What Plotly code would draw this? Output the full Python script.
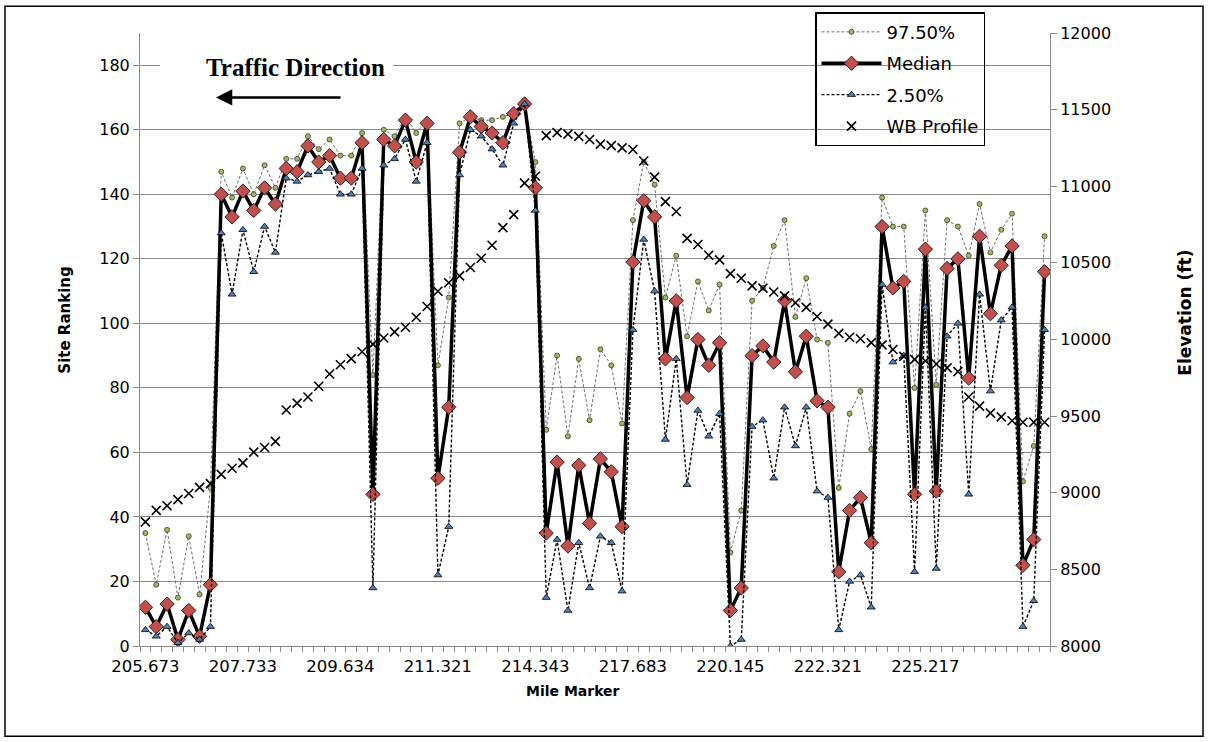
import plotly.graph_objects as go

# Site index along the route (westbound), 84 sites
site_index = list(range(84))

# Mile-marker labels shown every 9th site
label_positions = [0, 9, 18, 27, 36, 45, 54, 63, 72]
mile_labels = ["205.673", "207.733", "209.634", "211.321", "214.343",
               "217.683", "220.145", "222.321", "225.217"]

rank_upper = [35, 19, 36, 15, 34, 16, 49, 147, 139, 148, 140, 149, 142, 151, 151, 158,
              154, 157, 152, 152, 159, 84, 160, 158, 164, 159, 163, 87, 108, 162, 164, 163,
              163, 164, 165, 168, 150, 67, 90, 65, 89, 70, 92, 87, 69, 132, 150, 143,
              108, 121, 96, 113, 104, 112, 29, 42, 107, 111, 124, 132, 102, 114, 95, 94,
              49, 72, 79, 61, 139, 130, 130, 80, 135, 81, 132, 130, 121, 137, 122, 129,
              134, 51, 62, 127]

rank_median = [12, 6, 13, 2, 11, 3, 19, 140, 133, 141, 135, 142, 137, 148, 147, 155,
               150, 152, 145, 145, 156, 47, 157, 155, 163, 150, 162, 52, 74, 153, 164, 161,
               159, 156, 165, 168, 142, 35, 57, 31, 56, 38, 58, 54, 37, 119, 138, 133,
               89, 107, 77, 95, 87, 94, 11, 18, 90, 93, 88, 107, 85, 96, 76, 74,
               23, 42, 46, 32, 130, 111, 113, 47, 123, 48, 117, 120, 83, 127, 103, 118,
               124, 25, 33, 116]

rank_lower = [5, 3, 6, 1, 4, 2, 6, 128, 109, 129, 116, 130, 122, 145, 144, 146,
              147, 148, 140, 140, 148, 18, 149, 151, 157, 144, 156, 22, 37, 146, 160, 158,
              154, 149, 162, 168, 135, 15, 33, 11, 32, 18, 34, 32, 17, 98, 126, 110,
              64, 89, 50, 73, 65, 72, 0, 2, 68, 70, 52, 74, 62, 74, 48, 46,
              5, 20, 22, 12, 112, 88, 90, 23, 105, 24, 96, 100, 47, 109, 79, 101,
              105, 6, 14, 98]

wb_elevation = [8810, 8885, 8915, 8955, 8995, 9035, 9060, 9120, 9160, 9195, 9265, 9295,
                9335, 9540, 9585, 9625, 9695, 9775, 9835, 9875, 9920, 9970, 10010, 10050,
                10080, 10145, 10215, 10315, 10370, 10415, 10470, 10530, 10615, 10730, 10815, 11020,
                11065, 11330, 11350, 11340, 11325, 11305, 11275, 11265, 11250, 11240, 11165, 11060,
                10900, 10835, 10660, 10620, 10550, 10520, 10430, 10400, 10350, 10335, 10310, 10285,
                10240, 10210, 10150, 10100, 10040, 10015, 10005, 9980, 9965, 9935, 9890, 9870,
                9860, 9840, 9815, 9790, 9625, 9565, 9520, 9495, 9470, 9460, 9460, 9460]

elev_ticks = list(range(8000, 12001, 500))

# plot-area geometry in pixels
W, H = 1208, 742
L, R, T, B = 140, 1050, 28, 646
PW, PH = R - L, B - T


def px(x):
    return (x - L) / PW


def py(y):
    return (B - y) / PH


GRID = "#8a8a8a"
FONT = "DejaVu Sans"

fig = go.Figure()

fig.add_trace(go.Scatter(
    x=site_index, y=rank_upper, name="97.50%", mode="lines+markers",
    legendgroup="a",
    line=dict(color="#6f6f6f", width=1, dash="3px,2px"),
    marker=dict(symbol="circle", size=5, color="#9BBB59",
                line=dict(color="#3a3a3a", width=0.8)),
))
fig.add_trace(go.Scatter(
    x=site_index, y=rank_median, name="Median", mode="lines+markers",
    legendgroup="b",
    line=dict(color="black", width=3.5),
    marker=dict(symbol="diamond", size=11, color="#C0504D",
                line=dict(color="#3a1a1a", width=1)),
))
fig.add_trace(go.Scatter(
    x=site_index, y=rank_lower, name="2.50%", mode="lines+markers",
    legendgroup="c",
    line=dict(color="black", width=1.4, dash="3px,2px"),
    marker=dict(symbol="triangle-up", size=7, color="#4F81BD",
                line=dict(color="black", width=0.8)),
))
fig.add_trace(go.Scatter(
    x=site_index, y=wb_elevation, name="WB Profile", mode="markers",
    legendgroup="d", yaxis="y2",
    marker=dict(symbol="x-thin", size=9, color="black",
                line=dict(color="black", width=1.6)),
))

fig.update_layout(
    width=W, height=H,
    margin=dict(l=L, r=W - R, t=T, b=H - B),
    paper_bgcolor="white", plot_bgcolor="white",
    font=dict(family=FONT, size=15, color="black"),
    showlegend=True,
    legend=dict(
        x=px(815), y=py(7), xanchor="left", yanchor="top",
        bgcolor="rgba(0,0,0,0)", bordercolor="black", borderwidth=1.5,
        font=dict(family=FONT, size=18, color="black"),
        tracegroupgap=5, itemwidth=60,
    ),
    xaxis=dict(
        range=[-0.5, 83.5], showgrid=False, zeroline=False,
        showline=True, linecolor=GRID, linewidth=1,
        tickmode="array", tickvals=label_positions, ticktext=mile_labels,
        ticks="", ticklabelstandoff=5, tickfont=dict(family=FONT, size=16.5),
        minor=dict(tickmode="array",
                   tickvals=[i - 0.5 for i in range(85)],
                   ticks="outside", ticklen=5, tickcolor=GRID, showgrid=False),
    ),
    yaxis=dict(
        range=[0, 190], tickmode="array", tickvals=list(range(0, 181, 20)),
        showgrid=True, gridcolor=GRID, gridwidth=1, zeroline=False,
        showline=True, linecolor=GRID, linewidth=1,
        ticks="outside", ticklen=6, tickcolor=GRID,
        tickfont=dict(family=FONT, size=16),
    ),
    yaxis2=dict(
        range=[8000, 12000], overlaying="y", side="right",
        tickmode="array", tickvals=elev_ticks, ticktext=[str(v) for v in elev_ticks],
        showgrid=False, zeroline=False,
        showline=True, linecolor=GRID, linewidth=1,
        ticks="outside", ticklen=6, tickcolor=GRID,
        tickfont=dict(family=FONT, size=16),
    ),
)

# white strip that interrupts the top gridline behind the direction label
fig.add_shape(type="rect", xref="paper", yref="paper", layer="above",
              x0=px(160), x1=px(393), y0=py(66), y1=py(56),
              line=dict(width=0), fillcolor="white")

annotations = [
    dict(text="<b>Traffic Direction</b>", x=px(295), y=py(63), xref="paper", yref="paper",
         showarrow=False, xanchor="center", yanchor="middle",
         font=dict(family="Liberation Serif", size=25, color="black")),
    # direction arrow
    dict(text="", x=px(216), y=py(93), xref="paper", yref="paper",
         ax=126, ay=0, axref="pixel", ayref="pixel",
         showarrow=True, arrowhead=2, arrowsize=1.3, arrowwidth=2.5, arrowcolor="black"),
    # axis titles
    dict(text="<b>Mile Marker</b>", x=px(573), y=py(691), xref="paper", yref="paper",
         showarrow=False, xanchor="center", yanchor="middle",
         font=dict(family=FONT, size=14)),
    dict(text="<b>Site Ranking</b>", x=px(65), y=py(318), xref="paper", yref="paper",
         showarrow=False, xanchor="center", yanchor="middle", textangle=-90,
         font=dict(family=FONT, size=15)),
    dict(text="<b>Elevation (ft)</b>", x=px(1185), y=py(310), xref="paper", yref="paper",
         showarrow=False, xanchor="center", yanchor="middle", textangle=-90,
         font=dict(family=FONT, size=17)),
]
fig.update_layout(annotations=annotations)

# outer chart frame
fig.add_shape(type="rect", xref="paper", yref="paper",
              x0=px(5), x1=px(1203), y0=py(737), y1=py(1),
              line=dict(color="black", width=1.5), fillcolor="rgba(0,0,0,0)")

fig.write_html("out.html")
